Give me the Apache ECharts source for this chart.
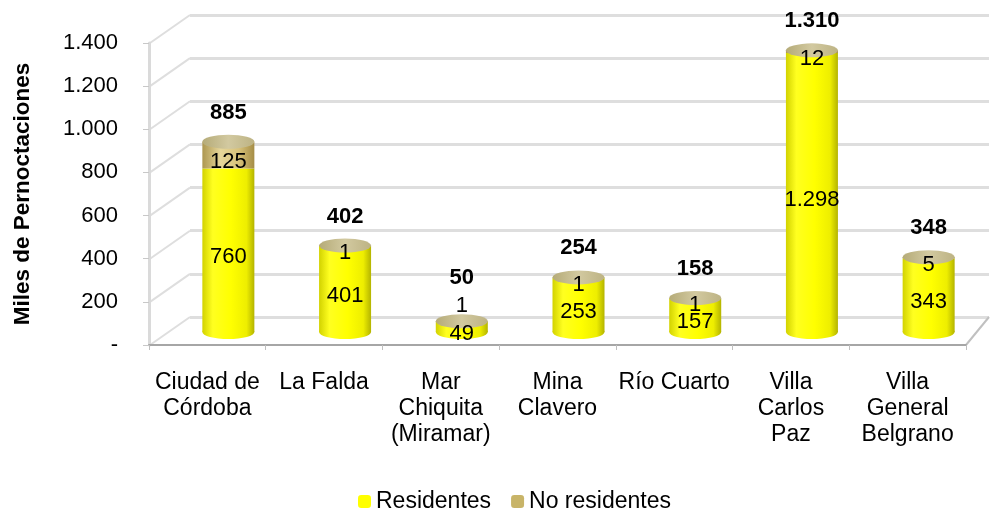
<!DOCTYPE html>
<html>
<head>
<meta charset="utf-8">
<script src="https://cdn.jsdelivr.net/npm/echarts@6/dist/echarts.min.js"></script>
<style>
  html, body { margin: 0; padding: 0; background: #fff; }
  #chart { width: 995px; height: 511px; }
</style>
</head>
<body>
<div id="chart"></div>
<script>
const categories = ['Ciudad de\nCórdoba', 'La Falda', 'Mar\nChiquita\n(Miramar)', 'Mina\nClavero', 'Río Cuarto', 'Villa\nCarlos\nPaz', 'Villa\nGeneral\nBelgrano'];
const residentes = [760, 401, 49, 253, 157, 1298, 343];
const noResidentes = [125, 1, 1, 1, 1, 12, 5];
const totales = [885, 402, 50, 254, 158, 1310, 348];
const yMax = 1400;
const yStep = 200;

const fmt = v => v === 0 ? '-' : String(v).replace(/\B(?=(\d{3})+(?!\d))/g, '.');
const font = 'Liberation Sans, Arial, sans-serif';

const chart = echarts.init(document.getElementById('chart'));

const yellowGrad = new echarts.graphic.LinearGradient(0, 0, 1, 0, [
    { offset: 0, color: '#d2d200' },
    { offset: 0.2, color: '#ffff20' },
    { offset: 0.55, color: '#ffff00' },
    { offset: 0.85, color: '#eeee00' },
    { offset: 1, color: '#b4b400' }
]);
const tanGrad = new echarts.graphic.LinearGradient(0, 0, 1, 0, [
    { offset: 0, color: '#ad9750' },
    { offset: 0.35, color: '#e6d69a' },
    { offset: 0.7, color: '#d8c27a' },
    { offset: 1, color: '#a58d46' }
]);
const capGrad = new echarts.graphic.LinearGradient(0, 0, 1, 0, [
    { offset: 0, color: '#b5ab78' },
    { offset: 0.5, color: '#d2c9a0' },
    { offset: 1, color: '#bdb384' }
]);

// a tiny bar (Mar Chiquita) gets its labels lifted, as in the original
const smallIdx = totales.map((t, i) => t < 100 ? i : -1).filter(i => i >= 0);
const noResLabelData = noResidentes.map((v, i) => smallIdx.includes(i)
    ? { value: v, label: { position: 'top', distance: 4 } } : v);
const totalData = totales.map((v, i) => smallIdx.includes(i)
    ? { value: v, label: { distance: 25 } } : v);

const segLabel = {
    show: true,
    position: 'inside',
    fontSize: 22,
    color: '#000',
    fontFamily: font,
    formatter: p => fmt(p.value)
};
const segLayout = p => ({ hideOverlap: false, dy: smallIdx.includes(p.dataIndex) && p.seriesIndex === 5 ? 0 : 7 });

const option = {
    animation: false,
    textStyle: { fontFamily: font },
    grid: [
        // front axis grid
        { left: 149, right: 29, top: 43, bottom: 166 },
        // bars grid (mid depth)
        { left: 170, right: 8, top: 31, bottom: 179 },
        // back wall grid
        { left: 190, right: 6, top: 15, bottom: 194 }
    ],
    legend: {
        top: 485,
        left: 353,
        itemWidth: 13,
        itemHeight: 13,
        itemGap: 20,
        data: [
            { name: 'Residentes', itemStyle: { color: '#ffff00' } },
            { name: 'No residentes', itemStyle: { color: '#c8b468' } }
        ],
        textStyle: { fontSize: 23, color: '#000', fontFamily: font }
    },
    xAxis: [{
        type: 'category',
        gridIndex: 0,
        data: categories,
        axisLine: { lineStyle: { color: '#a6a6a6', width: 2 } },
        axisTick: { show: true, length: 5, lineStyle: { color: '#bfbfbf' } },
        axisLabel: { fontSize: 23, color: '#000', lineHeight: 26, margin: 25, interval: 0, fontFamily: font }
    }, {
        type: 'category',
        gridIndex: 1,
        data: categories,
        show: false
    }, {
        type: 'category',
        gridIndex: 2,
        data: categories,
        show: false
    }],
    yAxis: [{
        type: 'value',
        gridIndex: 0,
        min: 0,
        max: yMax,
        interval: yStep,
        name: 'Miles de Pernoctaciones',
        nameLocation: 'middle',
        nameGap: 115,
        nameRotate: 90,
        nameTextStyle: { fontSize: 22.5, fontWeight: 'bold', color: '#000', fontFamily: font },
        axisLine: { show: true, lineStyle: { color: '#dadada', width: 3 } },
        axisTick: { show: true, length: 6, lineStyle: { color: '#c8c8c8' } },
        splitLine: { show: false },
        axisLabel: { fontSize: 22, color: '#000', margin: 31, formatter: fmt, fontFamily: font }
    }, {
        type: 'value',
        gridIndex: 1,
        min: 0,
        max: yMax,
        interval: yStep,
        show: false,
        splitLine: { show: false }
    }, {
        type: 'value',
        gridIndex: 2,
        min: 0,
        max: yMax,
        interval: yStep,
        axisLine: { show: false },
        axisTick: { show: false },
        axisLabel: { show: false },
        splitLine: { show: true, lineStyle: { color: '#dedede', width: 3 } }
    }],
    series: [{
        // bottom ellipse of each cylinder
        type: 'pictorialBar',
        xAxisIndex: 1,
        yAxisIndex: 1,
        symbol: 'circle',
        symbolSize: [52, 14],
        symbolOffset: [0, '50%'],
        symbolPosition: 'start',
        z: 1,
        silent: true,
        itemStyle: { color: yellowGrad },
        data: residentes
    }, {
        name: 'Residentes',
        type: 'bar',
        xAxisIndex: 1,
        yAxisIndex: 1,
        stack: 'total',
        barWidth: 52,
        barGap: '-100%',
        z: 2,
        itemStyle: { color: yellowGrad },
        data: residentes
    }, {
        name: 'No residentes',
        type: 'bar',
        xAxisIndex: 1,
        yAxisIndex: 1,
        stack: 'total',
        barWidth: 52,
        barGap: '-100%',
        z: 2,
        itemStyle: { color: tanGrad },
        data: noResidentes
    }, {
        // top ellipse + total label
        type: 'pictorialBar',
        xAxisIndex: 1,
        yAxisIndex: 1,
        symbol: 'circle',
        symbolSize: [52, 14],
        symbolOffset: [0, '-50%'],
        symbolPosition: 'end',
        z: 3,
        silent: true,
        itemStyle: { color: capGrad },
        label: {
            show: true,
            position: 'top',
            distance: 11,
            fontSize: 22,
            fontWeight: 'bold',
            color: '#000',
            fontFamily: font,
            formatter: p => fmt(p.value)
        },
        data: totalData
    }, {
        // transparent copies carrying the segment labels above the caps
        type: 'bar',
        xAxisIndex: 1,
        yAxisIndex: 1,
        stack: 'labels',
        barWidth: 52,
        barGap: '-100%',
        z: 5,
        silent: true,
        itemStyle: { color: 'rgba(0,0,0,0)' },
        label: segLabel,
        labelLayout: segLayout,
        data: residentes
    }, {
        type: 'bar',
        xAxisIndex: 1,
        yAxisIndex: 1,
        stack: 'labels',
        barWidth: 52,
        barGap: '-100%',
        z: 5,
        silent: true,
        itemStyle: { color: 'rgba(0,0,0,0)' },
        label: segLabel,
        labelLayout: segLayout,
        data: noResLabelData
    }, {
        // back wall series, only for the gridlines
        type: 'bar',
        xAxisIndex: 2,
        yAxisIndex: 2,
        silent: true,
        data: []
    }]
};

chart.setOption(option);

// side wall and floor edges, from the front and back grids
const wall = [];
for (let v = 0; v <= yMax; v += yStep) {
    const front = chart.convertToPixel({ yAxisIndex: 0 }, v);
    const back = chart.convertToPixel({ yAxisIndex: 2 }, v);
    wall.push({
        type: 'line',
        silent: true,
        shape: { x1: 150, y1: front, x2: 190, y2: back },
        style: { stroke: '#dedede', lineWidth: 2 }
    });
}
const f0 = chart.convertToPixel({ yAxisIndex: 0 }, 0);
const b0 = chart.convertToPixel({ yAxisIndex: 2 }, 0);
wall.push({
    type: 'line',
    silent: true,
    shape: { x1: 966, y1: f0, x2: 989, y2: b0 },
    style: { stroke: '#c0c0c0', lineWidth: 2 }
});
chart.setOption({ graphic: wall });
</script>
</body>
</html>
